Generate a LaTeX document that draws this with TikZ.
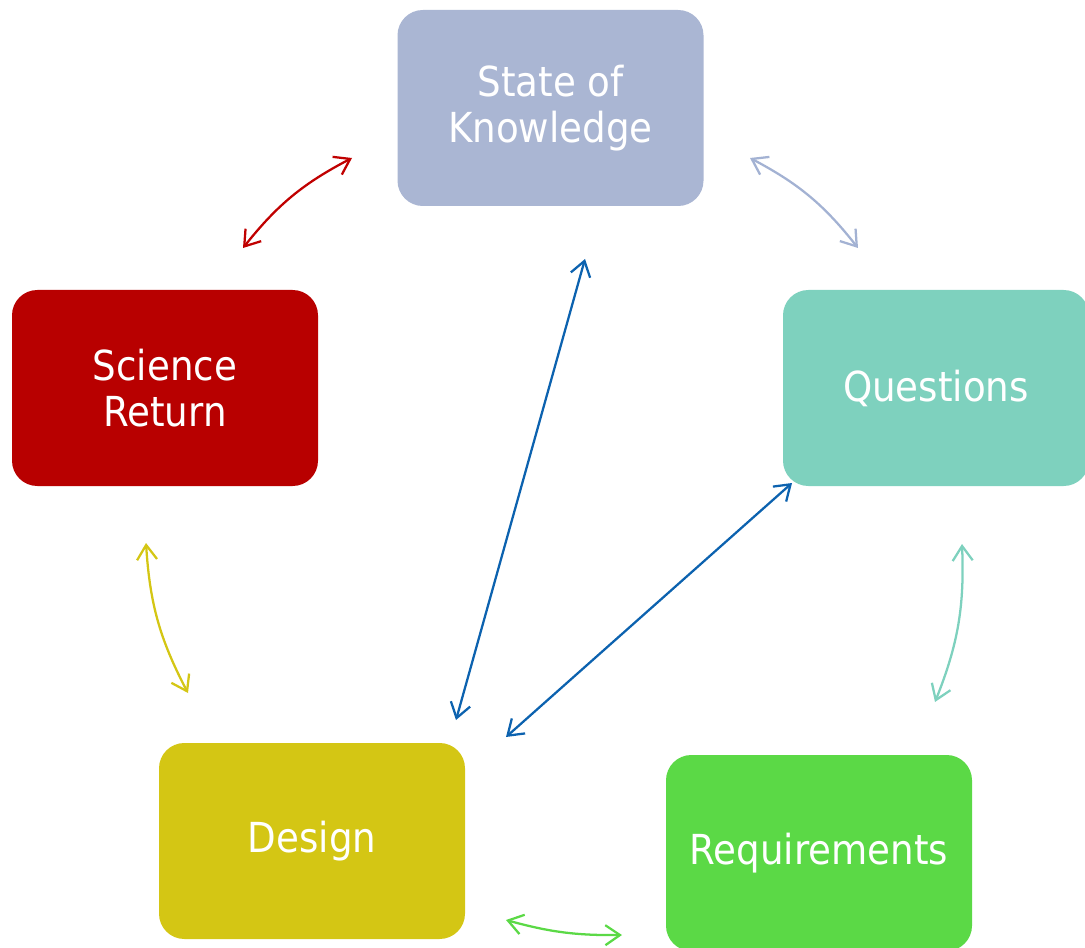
\documentclass[tikz,border=0pt]{standalone}
\usepackage{fontspec}
\setmainfont{DejaVu Sans Condensed}
\usetikzlibrary{arrows.meta}
\definecolor{cKnow}{RGB}{170,182,211}
\definecolor{cQuest}{RGB}{126,209,190}
\definecolor{cSci}{RGB}{184,0,0}
\definecolor{cDes}{RGB}{212,198,20}
\definecolor{cReq}{RGB}{91,217,70}
\definecolor{cBlue}{RGB}{12,98,175}
\definecolor{cRed}{RGB}{192,0,0}
\definecolor{cLav}{RGB}{163,178,211}
\tikzset{
  stage/.style={rounded corners=19pt, minimum width=229.5pt, minimum height=147pt,
    inner sep=0pt, text=white, align=center,
    font=\fontsize{31}{35}\selectfont},
  link/.style={line width=1.7pt, {Straight Barb[length=11pt,width=15pt]}-{Straight Barb[length=11pt,width=15pt]}}
}
\begin{document}
\begin{tikzpicture}[x=0.75pt,y=-0.75pt]
\useasboundingbox (0,0) rectangle (1085,948);
\clip (0,0) rectangle (1085,948);
% stage boxes
\node[stage, fill=cKnow]  (know) at (550.5,108) {State of\\Knowledge};
\node[stage, fill=cQuest] (quest) at (936,388) {Questions};
\node[stage, fill=cReq]   (req) at (819,853) {Requirements};
\node[stage, fill=cDes]   (des) at (312,841) {Design};
\node[stage, fill=cSci]   (sci) at (165,388) {Science\\Return};
% arrow end points
\coordinate (sk1) at (243,248);  \coordinate (sk2) at (352,158);
\coordinate (kq1) at (750,158);  \coordinate (kq2) at (858,248);
\coordinate (qr1) at (962,544);  \coordinate (qr2) at (935,702);
\coordinate (rd1) at (622,935);  \coordinate (rd2) at (506,920);
\coordinate (ds1) at (188,693);  \coordinate (ds2) at (146,543);
\coordinate (dk1) at (456,720);  \coordinate (dk2) at (585,259);
\coordinate (dq1) at (506,737);  \coordinate (dq2) at (792,483);
% links around the cycle
\draw[link, cRed]   (sk1) to[bend left=12] (sk2);
\draw[link, cLav]   (kq1) to[bend left=12] (kq2);
\draw[link, cQuest] (qr1) to[bend left=12] (qr2);
\draw[link, cReq]   (rd1) to[bend left=8] (rd2);
\draw[link, cDes]   (ds1) to[bend left=12] (ds2);
% links from design
\draw[link, cBlue]  (dk1) -- (dk2);
\draw[link, cBlue]  (dq1) -- (dq2);
\end{tikzpicture}
\end{document}
